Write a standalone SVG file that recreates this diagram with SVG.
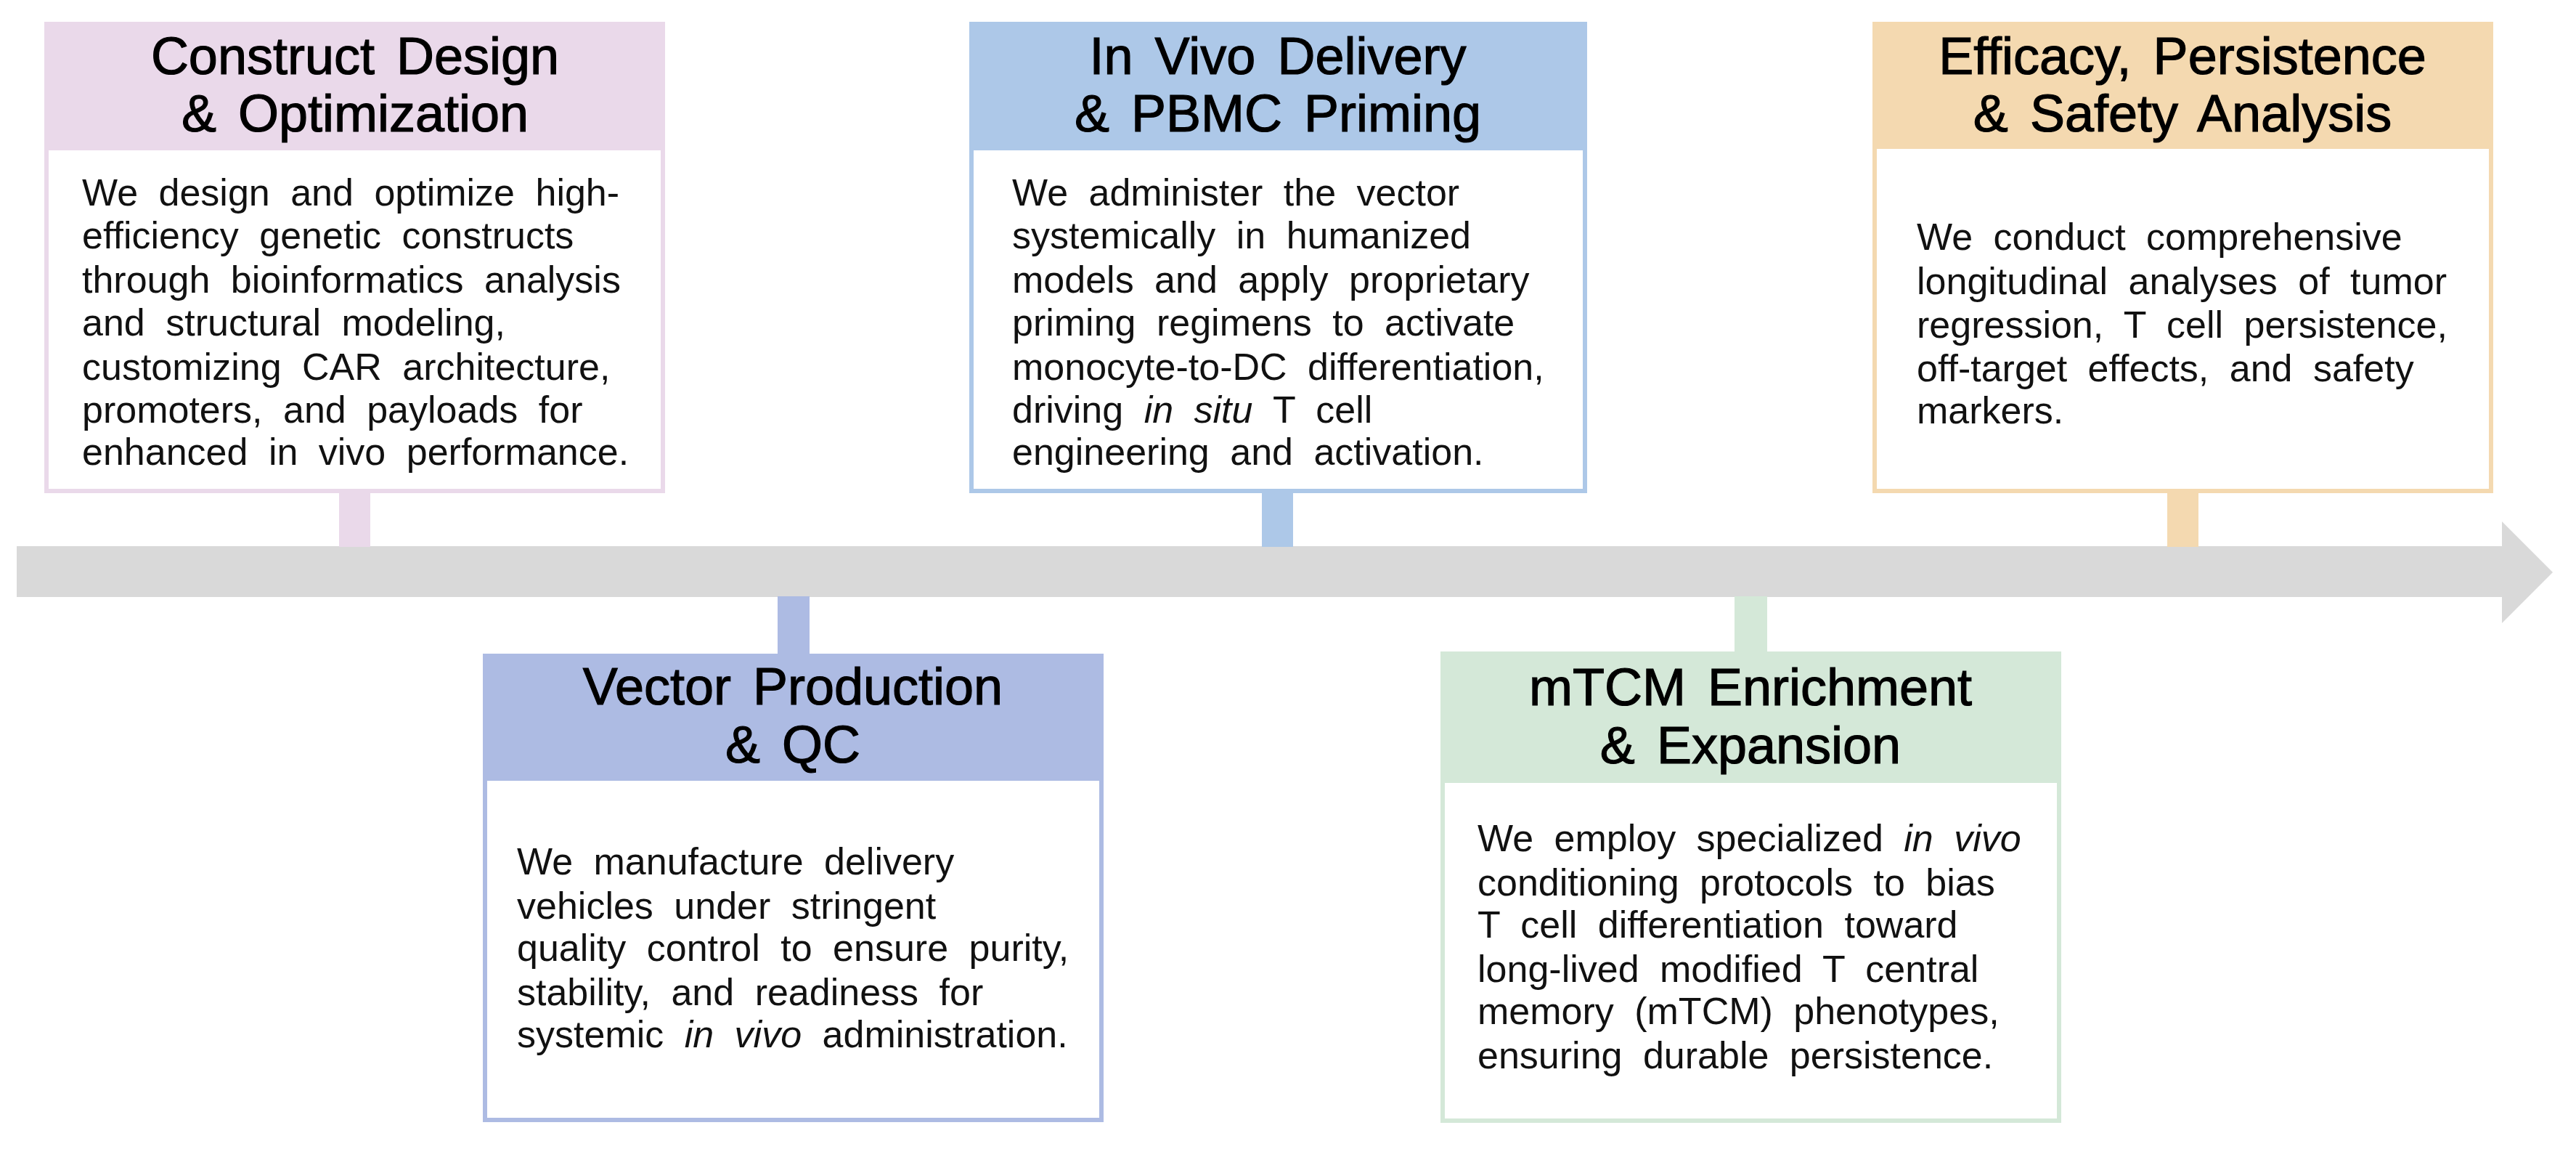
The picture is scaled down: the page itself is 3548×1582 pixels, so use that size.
<svg xmlns="http://www.w3.org/2000/svg" width="3548" height="1582" viewBox="0 0 3548 1582">
<style>
.t{font-family:"Liberation Sans",Arial,sans-serif;font-size:72px;fill:#000;stroke:#000;stroke-width:1.2;text-anchor:middle;word-spacing:10px}
.b{font-family:"Liberation Sans",Arial,sans-serif;font-size:52px;fill:#111;word-spacing:14px}
.i{font-style:italic}
.box{fill:#fff;stroke-width:6}
</style>
<rect width="3548" height="1582" fill="#fff"/>
<g id="connectors">
<rect x="23" y="752" width="3425" height="70" fill="#d9d9d9"/>
<polygon points="3446,718 3516,788 3446,858" fill="#d9d9d9"/>
<rect x="467" y="679" width="43" height="74" fill="#ead9ea"/>
<rect x="1071" y="821" width="44" height="79" fill="#adbbe3"/>
<rect x="1738" y="679" width="43" height="74" fill="#adc8e8"/>
<rect x="2389" y="821" width="45" height="77" fill="#d4e8d8"/>
<rect x="2985" y="679" width="43" height="74" fill="#f4d9b0"/>
</g>
<g id="n1">
<rect class="box" x="64" y="33" width="849" height="643" stroke="#ead9ea"/>
<rect x="61" y="30" width="855" height="177" fill="#ead9ea"/>
<text class="t" x="489" y="102">Construct Design</text>
<text class="t" x="489" y="181">&amp; Optimization</text>
<text class="b" x="113" y="283">We design and optimize high-</text>
<text class="b" x="113" y="342">efficiency genetic constructs</text>
<text class="b" x="113" y="403">through bioinformatics analysis</text>
<text class="b" x="113" y="462">and structural modeling,</text>
<text class="b" x="113" y="523">customizing CAR architecture,</text>
<text class="b" x="113" y="582">promoters, and payloads for</text>
<text class="b" x="113" y="640">enhanced in vivo performance.</text>
</g>
<g id="n2">
<rect class="box" x="668" y="903" width="849" height="639" stroke="#adbbe3"/>
<rect x="665" y="900" width="855" height="175" fill="#adbbe3"/>
<text class="t" x="1092" y="970">Vector Production</text>
<text class="t" x="1092" y="1050">&amp; QC</text>
<text class="b" x="712" y="1204">We manufacture delivery</text>
<text class="b" x="712" y="1265">vehicles under stringent</text>
<text class="b" x="712" y="1323">quality control to ensure purity,</text>
<text class="b" x="712" y="1384">stability, and readiness for</text>
<text class="b" x="712" y="1442">systemic <tspan class="i">in vivo</tspan> administration.</text>
</g>
<g id="n3">
<rect class="box" x="1338" y="33" width="845" height="643" stroke="#adc8e8"/>
<rect x="1335" y="30" width="851" height="177" fill="#adc8e8"/>
<text class="t" x="1760" y="102">In Vivo Delivery</text>
<text class="t" x="1760" y="181">&amp; PBMC Priming</text>
<text class="b" x="1394" y="283">We administer the vector</text>
<text class="b" x="1394" y="342">systemically in humanized</text>
<text class="b" x="1394" y="403">models and apply proprietary</text>
<text class="b" x="1394" y="462">priming regimens to activate</text>
<text class="b" x="1394" y="523">monocyte-to-DC differentiation,</text>
<text class="b" x="1394" y="582">driving <tspan class="i">in situ</tspan> T cell</text>
<text class="b" x="1394" y="640">engineering and activation.</text>
</g>
<g id="n4">
<rect class="box" x="1987" y="900" width="849" height="643" stroke="#d4e8d8"/>
<rect x="1984" y="897" width="855" height="181" fill="#d4e8d8"/>
<text class="t" x="2411" y="971">mTCM Enrichment</text>
<text class="t" x="2411" y="1051">&amp; Expansion</text>
<text class="b" x="2035" y="1172">We employ specialized <tspan class="i">in vivo</tspan></text>
<text class="b" x="2035" y="1233">conditioning protocols to bias</text>
<text class="b" x="2035" y="1291">T cell differentiation toward</text>
<text class="b" x="2035" y="1352">long-lived modified T central</text>
<text class="b" x="2035" y="1410">memory (mTCM) phenotypes,</text>
<text class="b" x="2035" y="1471">ensuring durable persistence.</text>
</g>
<g id="n5">
<rect class="box" x="2582" y="33" width="849" height="643" stroke="#f4d9b0"/>
<rect x="2579" y="30" width="855" height="175" fill="#f4d9b0"/>
<text class="t" x="3006" y="102">Efficacy, Persistence</text>
<text class="t" x="3006" y="181">&amp; Safety Analysis</text>
<text class="b" x="2640" y="344">We conduct comprehensive</text>
<text class="b" x="2640" y="405">longitudinal analyses of tumor</text>
<text class="b" x="2640" y="465">regression, T cell persistence,</text>
<text class="b" x="2640" y="525">off-target effects, and safety</text>
<text class="b" x="2640" y="583">markers.</text>
</g>
</svg>
